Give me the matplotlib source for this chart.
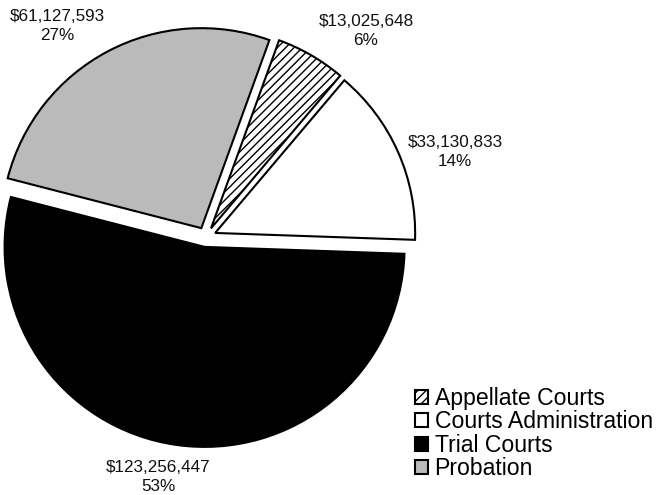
import matplotlib
matplotlib.use("Agg")
import matplotlib.pyplot as plt

plt.rcParams['font.family'] = ['Liberation Sans', 'DejaVu Sans']
plt.rcParams['hatch.linewidth'] = 1.0

categories = ["Appellate Courts", "Courts Administration", "Trial Courts", "Probation"]
values = [13025648, 33130833, 123256447, 61127593]
percent_labels = ["6%", "14%", "53%", "27%"]

fig = plt.figure(figsize=(6.58, 4.95), dpi=100)
ax = fig.add_axes([0, 0, 1, 1])

facecolors = ['white', 'white', 'black', '#bababa']
hatches = ['////', None, None, None]

wedges, _ = ax.pie(values, center=(206, 258), radius=200, startangle=70.1,
                   counterclock=False, explode=[10] * 4,
                   colors=facecolors,
                   wedgeprops=dict(edgecolor='black', linewidth=1.5),
                   frame=True)
for w, h in zip(wedges, hatches):
    if h:
        w.set_hatch(h)
ax.set_xlim(0, 658)
ax.set_ylim(0, 495)
ax.set_aspect('equal')
ax.axis('off')

label_pos = [(366, 464), (455, 343), (158, 18), (57, 469)]
for v, p, (x, y) in zip(values, percent_labels, label_pos):
    ax.text(x, y, "\\${:,}\n{}".format(v, p), ha='center', va='center',
            fontsize=12.3, linespacing=1.35, color='#111111')

leg = ax.legend(wedges, categories, loc='upper left', bbox_to_anchor=(415, 108),
                bbox_transform=ax.transData, frameon=False, fontsize=16.6,
                handlelength=0.55, handleheight=0.55, handletextpad=0.3,
                labelspacing=0.02, borderpad=0, borderaxespad=0)

fig.savefig("out.png", dpi=100)
